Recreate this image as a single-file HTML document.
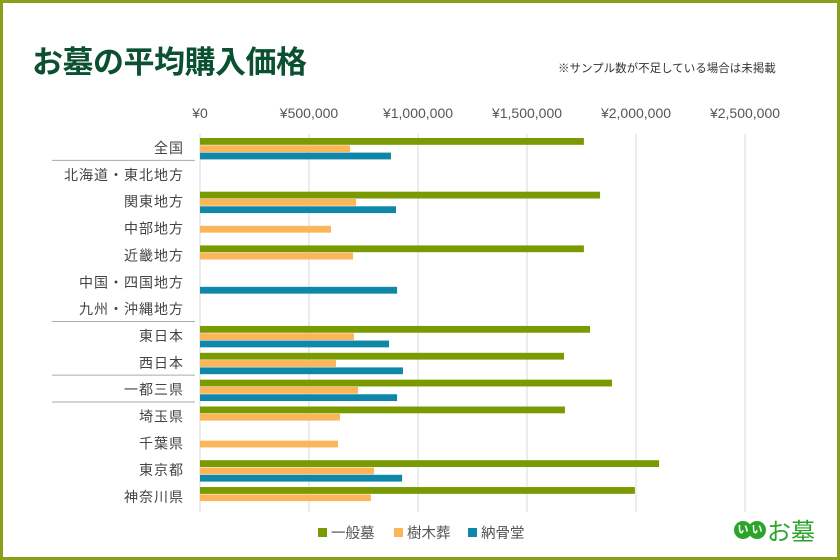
<!DOCTYPE html>
<html><head><meta charset="utf-8">
<style>
body{margin:0;width:840px;height:560px;overflow:hidden;background:#fff;font-family:"Liberation Sans","Noto Sans CJK JP",sans-serif;}
#frame{position:absolute;left:0;top:0;width:834px;height:554px;border:3px solid #87a01c;}
.t{position:absolute;white-space:nowrap;}
</style></head><body>
<div id="frame"></div>
<div class="t" style="left:32px;top:37px;font-size:31px;font-weight:bold;color:#0b5030;letter-spacing:-0.5px;">お墓の平均購入価格</div>
<div class="t" style="left:558px;top:60px;font-size:11.5px;color:#333;">※サンプル数が不足している場合は未掲載</div>
<svg id="chart" width="840" height="560" style="position:absolute;left:0;top:0"></svg>
<div class="t" style="left:734px;top:512px;">
<span style="display:inline-block;width:18px;height:18px;border-radius:9px;background:#2aa52a;color:#fff;font-size:11px;font-weight:bold;text-align:center;line-height:18px;vertical-align:middle;">い</span><span style="display:inline-block;width:18px;height:18px;border-radius:9px;background:#2aa52a;color:#fff;font-size:11px;font-weight:bold;text-align:center;line-height:18px;vertical-align:middle;margin-left:-4px;">い</span><span style="font-size:24px;color:#2aa52a;vertical-align:middle;margin-left:1px;">お墓</span></div>
<script>
const categories=["全国","北海道・東北地方","関東地方","中部地方","近畿地方","中国・四国地方","九州・沖縄地方","東日本","西日本","一都三県","埼玉県","千葉県","東京都","神奈川県"];
const seriesNames=["一般墓","樹木葬","納骨堂"];
const ippanbo=[1761000,null,1835000,null,1761000,null,null,1789000,1670000,1890000,1674000,null,2106000,1995000];
const jumokuso=[688000,null,716000,601000,702000,null,null,706000,624000,725000,642000,633000,798000,784000];
const nokotsudo=[876000,null,899000,null,null,904000,null,867000,931000,904000,null,null,927000,null];
const ticks=[0,500000,1000000,1500000,2000000,2500000];
const tickLabels=["¥0","¥500,000","¥1,000,000","¥1,500,000","¥2,000,000","¥2,500,000"];
const separatorsAfter=[0,6,8,9];
const colors=["#7a9a01","#fdb55a","#0f87a8"];
const svg=document.getElementById('chart');
const NS="http://www.w3.org/2000/svg";
const x0=200,pxPer=109/500000,top0=138,step=26.85,bh=7.3;
const X=v=>x0+v*pxPer;
const Y=i=>top0+i*step;
function mk(t,a){const e=document.createElementNS(NS,t);for(const k in a)e.setAttribute(k,a[k]);svg.appendChild(e);return e;}
ticks.forEach((t,i)=>{
 const g=mk('line',{x1:X(t),x2:X(t),y1:134,y2:512,stroke:'#d9d9d9','stroke-width':1});
 
 
 const l=mk('text',{x:X(t),y:118,'text-anchor':'middle','font-size':14,fill:'#555','font-family':'Liberation Sans, sans-serif'});
 l.textContent=tickLabels[i];
 
 
});
categories.forEach((c,i)=>{
 const l=mk('text',{x:184,y:Y(i)+15,'text-anchor':'end','font-size':14,fill:'#444','font-family':'Liberation Sans, Noto Sans CJK JP, sans-serif','letter-spacing':'1'});
 l.textContent=c;
 
 
});
separatorsAfter.forEach(i=>{
 const s=mk('line',{x1:52,x2:195,y1:Y(i+1)-4.5,y2:Y(i+1)-4.5,stroke:'#aaa','stroke-width':1});
 
 
});
[ippanbo,jumokuso,nokotsudo].forEach((ser,si)=>{
 ser.forEach((v,i)=>{
  if(v==null)return;
  const r=mk('rect',{x:x0,y:Y(i)+si*bh,width:X(v)-x0,height:bh-0.5,fill:colors[si]});
  
  
 });
});
const lx=[318,394,468];
seriesNames.forEach((n,i)=>{
 const r=mk('rect',{x:lx[i],y:528,width:9,height:9,fill:colors[i]});
 
 
 const t=mk('text',{x:lx[i]+13,y:538,'font-size':14.5,fill:'#555','font-family':'Liberation Sans, Noto Sans CJK JP, sans-serif'});
 t.textContent=n;
 
 
});
</script>
</body></html>
